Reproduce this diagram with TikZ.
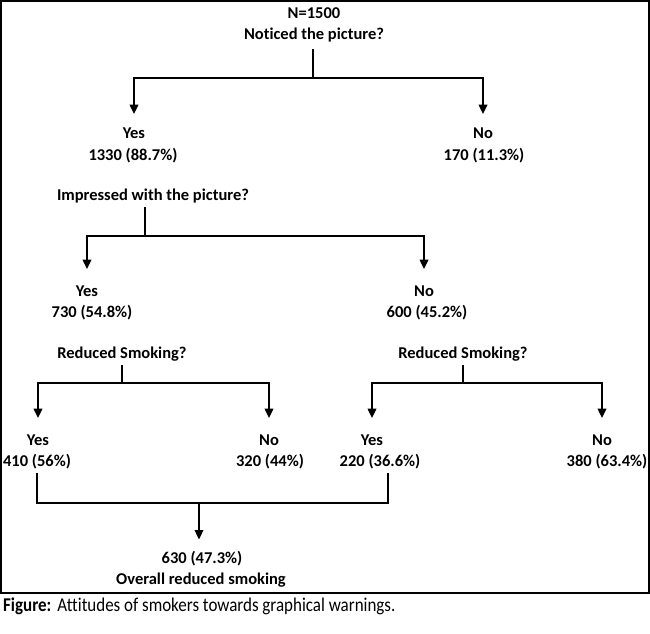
\documentclass[tikz,border=0pt]{standalone}
\usepackage{fontspec}
\setmainfont{Carlito}[Ligatures=NoCommon]
\newfontfamily\capfont[FakeStretch=0.87,Ligatures=NoCommon]{Carlito}
\usetikzlibrary{arrows.meta}
\begin{document}
\begin{tikzpicture}[x=1pt,y=-1pt,
  lbl/.style={font=\bfseries\fontsize{16.5}{19}\selectfont, inner sep=0pt, anchor=base},
  line/.style={line width=2pt},
  arr/.style={line width=2pt, -{Triangle[width=8.5pt,length=9.5pt]}},
]
\useasboundingbox (0,0) rectangle (650,633);
\draw[line width=2pt] (1,1) rectangle (649,593);

% level 1
\node[lbl] (q1a) at (314,18) {N=1500};
\node[lbl] (q1b) at (314,39) {Noticed the picture?};
\coordinate (j1) at (313,78);
\node[lbl] (y1) at (134,138) {Yes};
\node[lbl] (n1) at (133,160) {1330 (88.7\%)};
\node[lbl] (no1) at (483,138) {No};
\node[lbl] (m1) at (484,160) {170 (11.3\%)};
\draw[line, shorten <=7pt] (q1b.south -| j1) -- (j1);
\draw[arr, shorten >=13pt] (j1) -| (y1.north);
\draw[arr, shorten >=13pt] (j1) -| (no1.north);

% level 2
\node[lbl] (q2) at (153,200) {Impressed with the picture?};
\coordinate (j2) at (145,236);
\node[lbl] (y2) at (87,296) {Yes};
\node[lbl] (n2) at (92,317) {730 (54.8\%)};
\node[lbl] (no2) at (424,296) {No};
\node[lbl] (m2) at (427,317) {600 (45.2\%)};
\draw[line, shorten <=4pt] (q2.south -| j2) -- (j2);
\draw[arr, shorten >=16pt] (j2) -| (y2.north);
\draw[arr, shorten >=16pt] (j2) -| (no2.north);

% level 3 left
\node[lbl] (q3) at (122,358) {Reduced Smoking?};
\coordinate (j3) at (122,383);
\node[lbl] (y3) at (38,445) {Yes};
\node[lbl] (n3) at (37,466) {410 (56\%)};
\node[lbl] (no3) at (269,445) {No};
\node[lbl] (m3) at (270,466) {320 (44\%)};
\draw[line, shorten <=4pt] (q3.south -| j3) -- (j3);
\draw[arr, shorten >=16pt] (j3) -| (y3.north);
\draw[arr, shorten >=16pt] (j3) -| (no3.north);

% level 3 right
\node[lbl] (q4) at (463,358) {Reduced Smoking?};
\coordinate (j4) at (463,383);
\node[lbl] (y4) at (372,445) {Yes};
\node[lbl] (n4) at (380,466) {220 (36.6\%)};
\node[lbl] (no4) at (602,445) {No};
\node[lbl] (m4) at (607,466) {380 (63.4\%)};
\draw[line, shorten <=4pt] (q4.south -| j4) -- (j4);
\draw[arr, shorten >=16pt] (j4) -| (y4.north);
\draw[arr, shorten >=16pt] (j4) -| (no4.north);

% overall
\coordinate (b) at (199,503);
\coordinate (br) at (388,503);
\draw[line, shorten <=4pt, shorten >=4pt] (n3.south) -- (n3.south |- b) -- (br) -- (br |- n4.south);
\node[lbl] (f1) at (202,563) {630 (47.3\%)};
\node[lbl] (f2) at (201,584) {Overall reduced smoking};
\draw[arr, shorten >=11pt] (b) -- (b |- f1.north);

% caption
\node[anchor=base west, inner sep=0pt, font=\capfont\fontsize{19.5}{22}\selectfont] (cap) at (3,611)
  {\textbf{Figure:}\hspace{6pt}Attitudes of smokers towards graphical warnings.};
\end{tikzpicture}
\end{document}
